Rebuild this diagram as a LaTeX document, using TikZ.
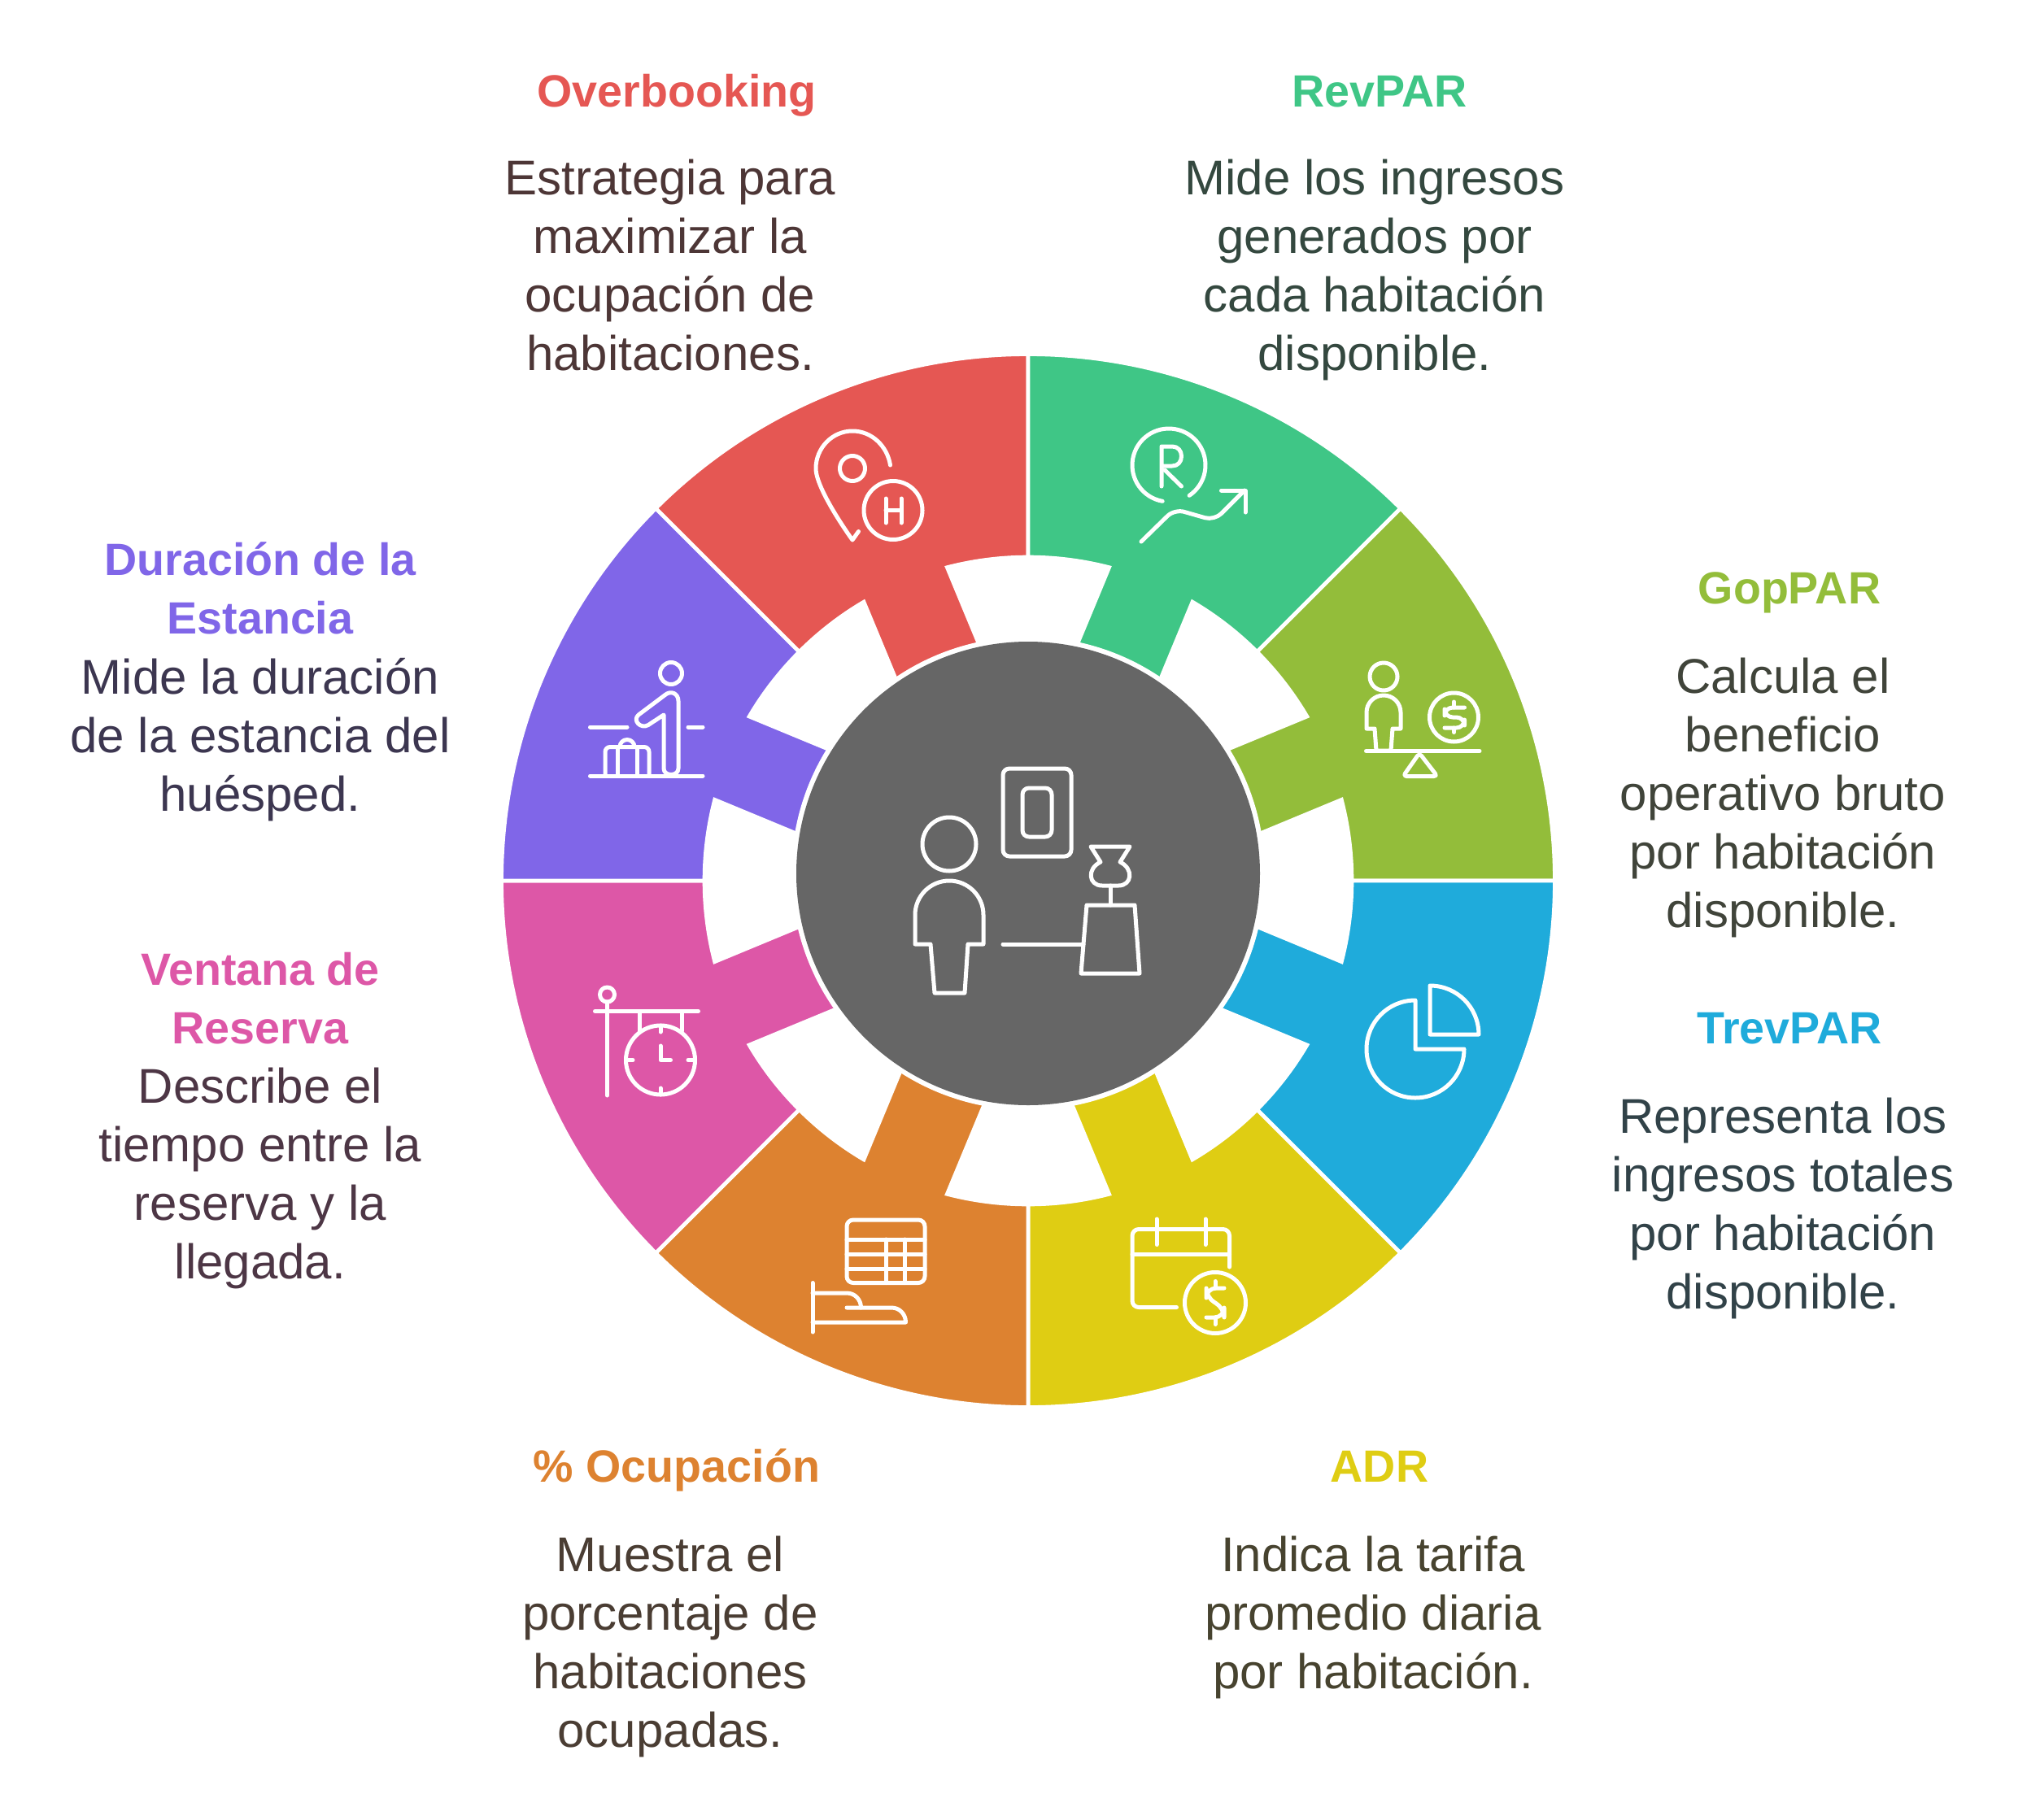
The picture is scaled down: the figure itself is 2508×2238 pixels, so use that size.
\documentclass[tikz,border=0pt]{standalone}
\usepackage{fontspec}
\setmainfont{Liberation Sans}

\definecolor{ovr}{HTML}{E55753}
\definecolor{rev}{HTML}{3FC686}
\definecolor{gop}{HTML}{93BD3A}
\definecolor{trev}{HTML}{1FABDB}
\definecolor{adr}{HTML}{DFCD13}
\definecolor{ocu}{HTML}{DD8230}
\definecolor{ven}{HTML}{DD57A7}
\definecolor{dur}{HTML}{8066E8}
\definecolor{hub}{HTML}{666666}

\definecolor{ovrtxt}{HTML}{4D3636}
\definecolor{revtxt}{HTML}{34483F}
\definecolor{goptxt}{HTML}{40443A}
\definecolor{trevtxt}{HTML}{314248}
\definecolor{adrtxt}{HTML}{47432F}
\definecolor{ocutxt}{HTML}{4A3D33}
\definecolor{ventxt}{HTML}{4D3645}
\definecolor{durtxt}{HTML}{3C3650}

\tikzset{
	seg/.style={draw=white,line width=2.35pt},
	icon/.style={draw=white,line width=2.5pt,line cap=round,line join=round},
	lab/.style={inner sep=0pt,align=center,execute at begin node=\strut,execute at end node=\strut},
	head/.style={lab,font=\fontsize{27.8}{36}\selectfont\bfseries},
	desc/.style={lab,font=\fontsize{30}{36}\selectfont},
}

\begin{document}
\begin{tikzpicture}[x=0.5pt,y=-0.5pt]
	\useasboundingbox (0,0) rectangle (2508,2238);

	\foreach \ang/\col in {112.5/ovr,67.5/rev,22.5/gop,-22.5/trev,-67.5/adr,-112.5/ocu,-157.5/ven,157.5/dur}{
		\begin{scope}[shift={(1264,1083)},y=0.5pt,rotate=\ang]
			\draw[seg,fill=\col] (-22.5:647.5) arc[start angle=-22.5,end angle=22.5,radius=647.5]
				-- (22.5:398) arc[start angle=22.5,end angle=8,radius=398]
				-- (100,55.5) -- (100,-55.5)
				-- (-8:398) arc[start angle=-8,end angle=-22.5,radius=398] -- cycle;
		\end{scope}
	}

	\fill[white] (1264,1074) circle[radius=291];
	\fill[hub] (1264,1074) circle[radius=285];

	% hub
	\draw[icon] (1167,1038) circle[radius=33];
	\draw[icon] (1125,1161) -- (1125,1125) arc[start angle=180,end angle=360,radius=42]
		-- (1209,1161) -- (1190,1161) -- (1186,1221) -- (1149,1221) -- (1144,1161) -- cycle;
	\draw[icon,rounded corners=4pt] (1233,945) rectangle (1317,1053);
	\draw[icon,rounded corners=4pt] (1257,969) rectangle (1293,1029);
	\draw[icon] (1233,1161) -- (1332,1161);
	\draw[icon] (1336,1113) -- (1395,1113) -- (1401,1197) -- (1329,1197) -- cycle;
	\draw[icon] (1365,1089) -- (1365,1113);
	\draw[icon] (1341,1041) -- (1389,1041) -- (1377,1060) .. controls (1394,1068) and (1392,1089) .. (1375,1089)
		-- (1355,1089) .. controls (1338,1089) and (1336,1068) .. (1353,1060) -- cycle;

	% overbooking
	\draw[icon] (1094.5,572) .. controls (1091,549) and (1072,530) .. (1048,530)
		.. controls (1023,530) and (1003,551) .. (1003,576)
		.. controls (1003,602) and (1048,664) .. (1048,664) -- (1055.5,653.5);
	\draw[icon] (1048,576) circle[radius=15.5];
	\draw[icon] (1098,627.5) circle[radius=36];
	\draw[icon] (1089,613) -- (1089,643) (1108,613) -- (1108,643) (1089,627) -- (1108,627);

	% revpar
	\draw[icon] (1437,572) ++(100:45) arc[start angle=100,end angle=416,radius=45];
	\draw[icon] (1428,598) -- (1428,549) -- (1441,549) .. controls (1448,549) and (1452.5,554) .. (1452.5,561)
		.. controls (1452.5,568) and (1448,573) .. (1441,573) -- (1428,573);
	\draw[icon] (1432,578) -- (1452.5,598);
	\draw[icon,rounded corners=6pt] (1403,666) -- (1444,626) -- (1493,640) -- (1530,603);
	\draw[icon] (1501.5,603) -- (1531,603) -- (1531,630);

	% goppar
	\draw[icon] (1701,832) circle[radius=17];
	\draw[icon] (1680,896) -- (1680,876) arc[start angle=180,end angle=360,radius=21]
		-- (1722,896) -- (1712,896) -- (1710,923) -- (1692,923) -- (1690,896) -- cycle;
	\draw[icon] (1679.5,923.5) -- (1819,923.5);
	\draw[icon,rounded corners=2pt] (1745,926) -- (1767,954.5) -- (1725,954.5) -- cycle;
	\draw[icon] (1787.5,882) circle[radius=30];
	\draw[icon,rounded corners=5pt] (1800.5,870) -- (1776,870) -- (1776,882) -- (1800.5,882) -- (1800.5,895) -- (1776,895);
	\draw[icon] (1787.5,863) -- (1787.5,870) (1787.5,895) -- (1787.5,900.5);

	% trevpar
	\draw[icon] (1740,1230) -- (1740,1290) -- (1800,1290) arc[start angle=0,end angle=270,radius=60] -- cycle;
	\draw[icon] (1758,1212) arc[start angle=270,end angle=360,radius=60] -- (1758,1272) -- cycle;

	% adr
	\draw[icon,rounded corners=4pt] (1511.5,1558) -- (1511.5,1511.5) -- (1392,1511.5) -- (1392,1607.5) -- (1446.5,1607.5);
	\draw[icon] (1392,1542) -- (1511.5,1542);
	\draw[icon] (1422,1499) -- (1422,1530.5) (1482,1499) -- (1482,1530.5);
	\draw[icon] (1494,1602) circle[radius=37.5];
	\draw[icon,rounded corners=6pt] (1505,1584) -- (1483,1584) -- (1483,1596) -- (1505,1608) -- (1505,1620) -- (1483,1620);
	\draw[icon] (1494,1575.5) -- (1494,1584) (1494,1620) -- (1494,1628.5);

	% ocupacion
	\draw[icon,rounded corners=4pt] (1041,1500) rectangle (1137,1577.5);
	\draw[icon] (1041,1524) -- (1137,1524) (1041,1542) -- (1137,1542) (1041,1560) -- (1137,1560);
	\draw[icon] (1089,1524) -- (1089,1577.5) (1112.5,1524) -- (1112.5,1577.5);
	\draw[icon] (999,1577.5) -- (999,1638);
	\draw[icon] (999,1590) -- (1041,1590) .. controls (1051,1590) and (1058.5,1598) .. (1058.5,1608);
	\draw[icon] (1041,1608) -- (1096,1608) .. controls (1106,1608) and (1113.5,1616) .. (1113.5,1626) -- (999,1626);

	% ventana
	\draw[icon] (746.5,1223) circle[radius=9];
	\draw[icon] (746.5,1232) -- (746.5,1347);
	\draw[icon] (731.5,1243.5) -- (858.5,1243.5);
	\draw[icon] (786,1243.5) -- (786,1268) (838,1243.5) -- (838,1268);
	\draw[icon] (812,1303.5) circle[radius=42.5];
	\draw[icon] (812,1261) -- (812,1269) (812,1338) -- (812,1346) (770,1303.5) -- (778,1303.5) (846,1303.5) -- (854,1303.5);
	\draw[icon] (812,1286) -- (812,1303.5) -- (824.5,1303.5);

	% duracion
	\draw[icon] (825,828) circle[radius=13.5];
	\draw[icon] (816,945) -- (816,879) -- (797,891.5) .. controls (788,897) and (777,886) .. (785,879)
		-- (817,855) .. controls (825,848) and (834,853) .. (834,862) -- (834,945)
		.. controls (834,955) and (816,955) .. (816,945);
	\draw[icon] (725.5,894) -- (771,894) (846,894) -- (864,894);
	\draw[icon] (725.5,954) -- (864,954);
	\draw[icon,rounded corners=3pt] (744,954) -- (744,918.5) -- (798,918.5) -- (798,954);
	\draw[icon] (759,918.5) -- (759,954) (783,918.5) -- (783,954);
	\draw[icon] (762,918.5) arc[start angle=180,end angle=360,radius=9];

	% labels
	\draw (832,117) node [head,text=ovr] (over) {Overbooking};
	\draw (824,337) node [desc,text=ovrtxt] (overtxt) {Estrategia para\\maximizar la\\ocupación de\\habitaciones.};
	\draw (1696,117) node [head,text=rev] (revpar) {RevPAR};
	\draw (1690,337) node [desc,text=revtxt] (revpartxt) {Mide los ingresos\\generados por\\cada habitación\\disponible.};
	\draw (2200,728) node [head,text=gop] (goppar) {GopPAR};
	\draw (2192,986) node [desc,text=goptxt] (goppartxt) {Calcula el\\beneficio\\operativo bruto\\por habitación\\disponible.};
	\draw (2200,1269) node [head,text=trev] (trevpar) {TrevPAR};
	\draw (2192,1491) node [desc,text=trevtxt] (trevpartxt) {Representa los\\ingresos totales\\por habitación\\disponible.};
	\draw (1696,1808) node [head,text=adr] (adrate) {ADR};
	\draw (1688,1994) node [desc,text=adrtxt] (adratetxt) {Indica la tarifa\\promedio diaria\\por habitación.};
	\draw (832,1808) node [head,text=ocu] (ocup) {\% Ocupación};
	\draw (824,2030) node [desc,text=ocutxt] (ocuptxt) {Muestra el\\porcentaje de\\habitaciones\\ocupadas.};
	\draw (320,1238) node [head,text=ven] (vent) {Ventana de\\Reserva};
	\draw (320,1454) node [desc,text=ventxt] (venttxt) {Describe el\\tiempo entre la\\reserva y la\\llegada.};
	\draw (320,734) node [head,text=dur] (dura) {Duración de la\\Estancia};
	\draw (320,914) node [desc,text=durtxt] (duratxt) {Mide la duración\\de la estancia del\\huésped.};
\end{tikzpicture}
\end{document}
